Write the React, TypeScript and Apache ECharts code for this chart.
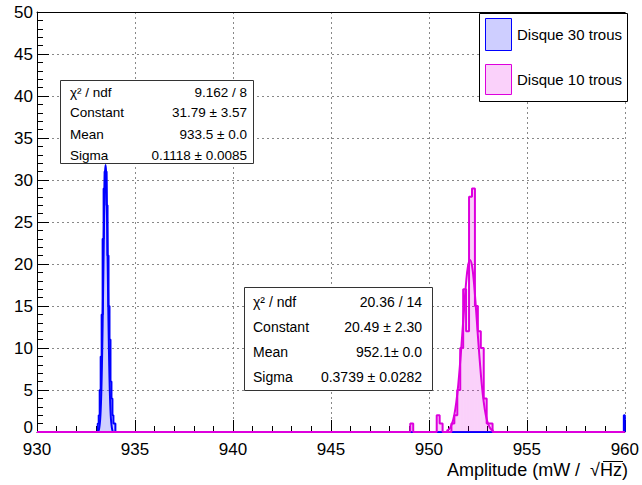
import React, { useEffect, useRef } from "react";
import * as echarts from "echarts";

// ---------- data ----------
const xMin = 930;
const xMax = 960;
const yMin = 0;
const yMax = 50;

const blueBinWidth = 0.05;
const blueBinLow = [933.1, 933.15, 933.2, 933.25, 933.3, 933.35, 933.4, 933.45, 933.5, 933.55, 933.6, 933.65, 933.7, 933.75, 933.8, 933.85, 933.9, 933.95, 959.95];
const blueCounts = [1, 2, 5, 9, 14, 23, 29, 31, 31, 27, 21, 15, 11, 6, 4, 2, 1, 1, 2];

const magentaBinWidth = 0.15;
const magentaBinLow = [949.05, 950.4, 950.55, 951.15, 951.3, 951.45, 951.6, 951.75, 951.9, 952.05, 952.2, 952.35, 952.5, 952.65, 952.8, 952.95, 953.1];
const magentaCounts = [1, 2, 1, 1, 2, 5, 10, 17, 12, 28, 29, 15, 12, 10, 4, 1, 1];

const blueFitX = [933.1, 933.125, 933.15, 933.175, 933.2, 933.225, 933.25, 933.275, 933.3, 933.325, 933.35, 933.375, 933.4, 933.425, 933.45, 933.475, 933.5, 933.525, 933.55, 933.575, 933.6, 933.625, 933.65, 933.675, 933.7, 933.725, 933.75, 933.775, 933.8, 933.825, 933.85, 933.875, 933.9];
const blueFitY = [0.05, 0.11, 0.2, 0.46, 0.9, 1.55, 2.6, 4.2, 6.4, 9.3, 12.9, 17.0, 21.3, 25.4, 28.7, 31.0, 31.8, 31.0, 28.7, 25.4, 21.3, 17.0, 12.9, 9.3, 6.4, 4.2, 2.6, 1.55, 0.9, 0.46, 0.2, 0.11, 0.05];

const magentaFitX = [950.9, 951.0, 951.1, 951.2, 951.3, 951.4, 951.5, 951.6, 951.7, 951.8, 951.9, 952.0, 952.1, 952.2, 952.3, 952.4, 952.5, 952.6, 952.7, 952.8, 952.9, 953.0, 953.1, 953.2, 953.3];
const magentaFitY = [0.12, 0.27, 0.57, 1.13, 2.07, 3.56, 5.64, 8.4, 11.5, 14.8, 17.8, 19.8, 20.49, 19.8, 17.8, 14.8, 11.5, 8.4, 5.64, 3.56, 2.07, 1.13, 0.57, 0.27, 0.12];

const legendLabels = ["Disque 30 trous", "Disque 10 trous"];
const statsBlueLabels = ["χ² / ndf", "Constant", "Mean", "Sigma"];
const statsBlueValues = ["9.162 / 8", "31.79 ± 3.57", "933.5 ± 0.0", "0.1118 ± 0.0085"];
const statsMagentaLabels = ["χ² / ndf", "Constant", "Mean", "Sigma"];
const statsMagentaValues = ["20.36 / 14", "20.49 ± 2.30", "952.1± 0.0", "0.3739 ± 0.0282"];
const xTitle = "Amplitude (mW /  √Hz)";

// ---------- styles ----------
const BLUE = "#0000ff";
const MAGENTA = "#dd00dd";
const BLUE_FILL = "rgba(60,60,255,0.25)";
const MAGENTA_FILL = "rgba(230,0,230,0.18)";
const FONT = "'Liberation Sans', Arial, sans-serif";
const GZ = 100;

function stepPoints(lows: number[], counts: number[], w: number): number[][] {
  const pts: number[][] = [[xMin, 0]];
  let end = xMin;
  lows.forEach((lo, i) => {
    const hi = +(lo + w).toFixed(5);
    if (lo > end + 1e-6) {
      pts.push([end, 0]);
      pts.push([lo, 0]);
    }
    pts.push([lo, counts[i]]);
    pts.push([hi, counts[i]]);
    end = hi;
  });
  pts.push([end, 0]);
  pts.push([xMax, 0]);
  return pts;
}

function binData(lows: number[], counts: number[], w: number) {
  return lows.map((lo, i) => [lo, +(lo + w).toFixed(5), counts[i]]);
}

function fillSeries(data: number[][], fill: string, z: number) {
  return {
    type: "custom",
    data,
    z,
    encode: { x: [0, 1], y: 2 },
    renderItem: (_p: any, api: any) => {
      const lo = api.value(0);
      const hi = api.value(1);
      const v = api.value(2);
      const p1 = api.coord([lo, v]);
      const p2 = api.coord([hi, 0]);
      return {
        type: "rect",
        shape: { x: p1[0], y: p1[1], width: p2[0] - p1[0], height: p2[1] - p1[1] },
        style: { fill },
      };
    },
  };
}

function statsBox(x: number, y: number, w: number, h: number, rows: number[], labelX: number, valueX: number, labels: string[], values: string[], fs: number) {
  const els: any[] = [
    { type: "rect", z: GZ, shape: { x, y, width: w, height: h }, style: { fill: "#fff", stroke: "#333", lineWidth: 1 } },
  ];
  labels.forEach((t, i) => {
    els.push({ type: "text", z: GZ + 1, x: labelX, y: rows[i], style: { text: t, fill: "#000", font: `${fs}px ${FONT}`, textAlign: "left", textVerticalAlign: "middle" } });
    els.push({ type: "text", z: GZ + 1, x: valueX, y: rows[i], style: { text: values[i], fill: "#000", font: `${fs}px ${FONT}`, textAlign: "right", textVerticalAlign: "middle" } });
  });
  return els;
}

export default function App() {
  const ref = useRef<HTMLDivElement>(null);
  useEffect(() => {
    if (!ref.current) return;
    const chart = echarts.init(ref.current, undefined, { renderer: "svg" });
    const axisCommon = {
      axisLine: { show: true, lineStyle: { color: "#000", width: 1 } },
      axisTick: { show: true, inside: true, length: 12, lineStyle: { color: "#000" } },
      minorTick: { show: true, splitNumber: 5, length: 6, lineStyle: { color: "#000" } },
      splitLine: { show: true, lineStyle: { type: [2, 3], color: "#888", width: 1 } },
    };
    const option: any = {
      animation: false,
      backgroundColor: "#fff",
      grid: { left: 37, right: 14, top: 12, bottom: 53 },
      xAxis: [
        {
          type: "value", min: xMin, max: xMax, interval: 5, position: "bottom",
          ...axisCommon,
          axisLabel: { color: "#000", fontSize: 17, fontFamily: FONT, margin: 9, showMinLabel: true, showMaxLabel: true },
        },
        {
          type: "value", min: xMin, max: xMax, position: "top",
          axisLine: { show: true, lineStyle: { color: "#000", width: 1 } },
          axisTick: { show: false }, axisLabel: { show: false }, splitLine: { show: false },
        },
      ],
      yAxis: {
        type: "value", min: yMin, max: yMax, interval: 5,
        ...axisCommon,
        axisLabel: {
          color: "#000", fontSize: 17, fontFamily: FONT, margin: 4, showMinLabel: true, showMaxLabel: true,
          formatter: (v: number) => (v === 0 ? "{z|0}" : String(v)),
          rich: { z: { fontSize: 17, fontFamily: FONT, color: "#000", padding: [0, 0, 10, 0] } },
        },
      },
      series: [
        fillSeries(binData(blueBinLow, blueCounts, blueBinWidth), BLUE_FILL, 2),
        {
          type: "line", data: stepPoints(blueBinLow, blueCounts, blueBinWidth), symbol: "none", z: 3,
          lineStyle: { color: BLUE, width: 2 },
        },
        {
          type: "line", data: blueFitX.map((x, i) => [x, blueFitY[i]]), symbol: "none", smooth: 0.4, z: 4,
          lineStyle: { color: BLUE, width: 2 },
        },
        fillSeries(binData(magentaBinLow, magentaCounts, magentaBinWidth), MAGENTA_FILL, 5),
        {
          type: "line", data: stepPoints(magentaBinLow, magentaCounts, magentaBinWidth), symbol: "none", z: 6,
          lineStyle: { color: MAGENTA, width: 2 },
        },
        {
          type: "line", data: magentaFitX.map((x, i) => [x, magentaFitY[i]]), symbol: "none", smooth: 0.4, z: 7,
          lineStyle: { color: MAGENTA, width: 2 },
        },
      ],
      graphic: [
        { type: "rect", z: GZ, shape: { x: 479.5, y: 13.5, width: 148, height: 88 }, style: { fill: "#fff", stroke: "#000", lineWidth: 1 } },
        { type: "rect", z: GZ + 1, shape: { x: 485.5, y: 18.5, width: 26, height: 32 }, style: { fill: BLUE_FILL, stroke: BLUE, lineWidth: 1 } },
        { type: "rect", z: GZ + 1, shape: { x: 485.5, y: 64.5, width: 26, height: 30 }, style: { fill: MAGENTA_FILL, stroke: MAGENTA, lineWidth: 1 } },
        { type: "text", z: GZ + 1, x: 517, y: 34, style: { text: legendLabels[0], fill: "#000", font: `15px ${FONT}`, textVerticalAlign: "middle" } },
        { type: "text", z: GZ + 1, x: 517, y: 79, style: { text: legendLabels[1], fill: "#000", font: `15px ${FONT}`, textVerticalAlign: "middle" } },
        ...statsBox(60.5, 80.5, 193, 83, [92, 112, 134, 155], 70, 247, statsBlueLabels, statsBlueValues, 13.5),
        ...statsBox(244.5, 287.5, 188, 103, [302, 327, 352, 377], 253, 422, statsMagentaLabels, statsMagentaValues, 14),
        {
          type: "text", z: GZ, x: 628, y: 470,
          style: { text: xTitle, fill: "#000", font: `18px ${FONT}`, textAlign: "right", textVerticalAlign: "middle" },
        },
        {
          type: "line", z: GZ, shape: { x1: 603, y1: 461.5, x2: 623, y2: 461.5 }, style: { stroke: "#000", lineWidth: 1 },
        },
      ],
    };
    chart.setOption(option);
    return () => chart.dispose();
  }, []);
  return <div ref={ref} style={{ position: "fixed", left: 0, top: 0, width: 642, height: 485 }} />;
}
